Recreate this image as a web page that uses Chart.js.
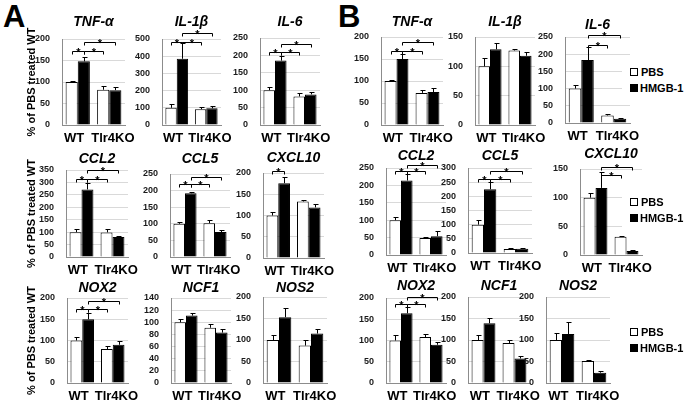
<!DOCTYPE html>
<html>
<head>
<meta charset="utf-8">
<script src="https://cdn.jsdelivr.net/npm/chart.js@4.4.1/dist/chart.umd.min.js"></script>
<style>
  body { margin: 0; background: #fff; }
  #wrap { position: relative; width: 686px; height: 404px; overflow: hidden; font-family: 'Liberation Sans', Arial, sans-serif; }
  #wrap canvas { position: absolute; }
  .panel { position: absolute; font-weight: bold; font-size: 31px; line-height: 1; }
  .leg { position: absolute; background: #fff; width: 64px; height: 40px; font-weight: bold; font-size: 11px; }
  .leg span { position: absolute; line-height: 1; }
  .leg i { position: absolute; width: 8px; height: 8px; box-sizing: border-box; border: 1px solid #000; }
</style>
</head>
<body>
<div id="wrap">
  <div class="panel" style="left:3px;top:1px">A</div>
  <div class="panel" style="left:338px;top:1px">B</div>
</div>
<script>
const genes = ['TNF-α', 'IL-1β', 'IL-6', 'CCL2', 'CCL5', 'CXCL10', 'NOX2', 'NCF1', 'NOS2'];
const groups = ['WT', 'Tlr4KO'];
const series = ['PBS', 'HMGB-1'];

// panel A, per gene: [WT, Tlr4KO]
const pbsA = [[100, 82], [100, 92], [100, 82], [100, 99], [100, 102], [100, 133], [100, 80], [100, 91], [100, 87]];
const pbsErrA = [[3, 8], [22, 14], [10, 9], [12, 12], [5, 8], [9, 3], [8, 7], [5, 7], [12, 12]];
const hmgbA = [[148, 81], [385, 97], [185, 88], [272, 80], [192, 75], [176, 119], [150, 90], [111, 83], [153, 115]];
const hmgbErrA = [[11, 7], [92, 12], [12, 8], [24, 5], [5, 7], [14, 8], [14, 8], [4, 6], [22, 10]];
const yMaxA = [200, 500, 250, 350, 250, 200, 200, 140, 200];
const yStepA = [50, 100, 50, 50, 50, 50, 50, 20, 50];
// brackets: [bar, bar, height] with bars 0 WT-PBS, 1 WT-HMGB, 2 KO-PBS, 3 KO-HMGB
const sigA = [
  [[0, 1, 171], [1, 2, 171], [1, 3, 192]],
  [[0, 1, 483], [1, 2, 483], [1, 3, 535]],
  [[0, 1, 209], [1, 2, 209], [1, 3, 233]],
  [[0, 1, 314], [1, 2, 314], [1, 3, 350]],
  [[0, 1, 219], [1, 2, 219], [1, 3, 242]],
  [[0, 1, 204]],
  [[0, 1, 175], [1, 2, 175], [1, 3, 194]],
  [],
  []
];

// panel B
const pbsB = [[100, 73], [100, 127], [100, 22], [100, 49], [100, 14], [100, 32], [100, 108], [100, 93], [100, 51]];
const pbsErrB = [[2, 6], [15, 3], [10, 5], [9, 2], [18, 2], [8, 2], [13, 7], [11, 7], [16, 3]];
const hmgbB = [[150, 75], [129, 118], [183, 12], [214, 54], [225, 15], [117, 7], [164, 90], [139, 57], [114, 24]];
const hmgbErrB = [[12, 9], [11, 7], [37, 3], [19, 16], [27, 3], [28, 1], [16, 6], [12, 5], [28, 3]];
const yMaxB = [200, 150, 250, 250, 300, 150, 200, 200, 200];
const yStepB = [50, 50, 50, 50, 50, 50, 50, 50, 50];
const sigB = [
  [[0, 1, 168], [1, 2, 168], [1, 3, 189]],
  [],
  [[1, 2, 226], [1, 3, 255]],
  [[0, 1, 240], [1, 2, 240], [1, 3, 260]],
  [[0, 1, 261], [1, 2, 261], [1, 3, 288]],
  [[1, 2, 139], [1, 3, 154]],
  [[0, 1, 186], [1, 2, 186], [1, 3, 202]],
  [],
  []
];

const yTitle = '% of PBS treated WT';

// layout: plot area [left, right, top, bottom] and title centre y
const boxA = [[62, 125, 39, 125], [162, 221, 39, 125], [260, 320, 38, 125],
              [66, 128, 170, 257], [170, 230, 174, 257], [263, 324, 173, 258],
              [67, 128, 298, 383], [171, 231, 298, 383], [263, 327, 297, 383]];
const titleYA = [22, 22, 22, 159, 159, 158, 288, 288, 288];
const boxB = [[381, 443, 37, 125], [475, 535, 37, 125], [565, 630, 37, 123],
              [386, 446, 168, 255], [468, 532, 168, 253], [580, 642, 169, 255],
              [386, 446, 298, 383], [468, 530, 297, 383], [546, 610, 297, 383]];
const titleYB = [22, 22, 25, 156, 156, 154, 286, 286, 286];
const legendY = [72, 202, 332];

const sans = "'Liberation Sans', Arial, sans-serif";
const wrap = document.getElementById('wrap');

const errorBars = {
  id: 'errorBars',
  afterDatasetsDraw(chart) {
    const ctx = chart.ctx, y = chart.scales.y;
    ctx.save();
    ctx.strokeStyle = '#000';
    ctx.lineWidth = 1;
    chart.data.datasets.forEach((ds, di) => {
      chart.getDatasetMeta(di).data.forEach((bar, i) => {
        const x = Math.round(bar.x) + 0.5;
        const top = Math.round(y.getPixelForValue(ds.data[i] + ds.err[i])) + 0.5;
        ctx.beginPath();
        ctx.moveTo(x, bar.y);
        ctx.lineTo(x, top);
        ctx.moveTo(x - 2, top);
        ctx.lineTo(x + 3, top);
        ctx.stroke();
      });
    });
    ctx.restore();
  }
};

const sigBrackets = {
  id: 'sigBrackets',
  afterDatasetsDraw(chart, args, opts) {
    const ctx = chart.ctx, y = chart.scales.y;
    const barX = k => Math.round(chart.getDatasetMeta(k % 2).data[Math.floor(k / 2)].x) + 0.5;
    ctx.save();
    ctx.strokeStyle = '#000';
    ctx.fillStyle = '#000';
    ctx.lineWidth = 1;
    ctx.font = 'bold 11px ' + sans;
    ctx.textAlign = 'center';
    ctx.textBaseline = 'alphabetic';
    for (const [a, b, v] of opts.pairs || []) {
      const x1 = barX(a), x2 = barX(b);
      const yy = Math.round(y.getPixelForValue(v)) + 0.5;
      ctx.beginPath();
      ctx.moveTo(x1, yy + 3);
      ctx.lineTo(x1, yy);
      ctx.lineTo(x2, yy);
      ctx.lineTo(x2, yy + 3);
      ctx.stroke();
      ctx.fillText('*', (x1 + x2) / 2, yy + 4);
    }
    ctx.restore();
  }
};

function drawChart(gene, pbs, pbsErr, hmgb, hmgbErr, yMax, yStep, sig, box, titleY, withTitle) {
  const [l, r, t, b] = box;
  const yW = withTitle ? l - 21 : 45;
  const rp = 14, xH = 20, topH = 30;
  const canvas = document.createElement('canvas');
  canvas.width = (r - l) + yW + rp;
  canvas.height = (b - t) + topH + xH;
  canvas.style.left = (l - yW) + 'px';
  canvas.style.top = (t - topH) + 'px';
  wrap.appendChild(canvas);
  const padTop = titleY - 8.4 - (t - topH);

  new Chart(canvas, {
    type: 'bar',
    data: {
      labels: groups,
      datasets: [
        { label: series[0], data: pbs, err: pbsErr, backgroundColor: '#fff', borderColor: '#000', borderWidth: 1 },
        { label: series[1], data: hmgb, err: hmgbErr, backgroundColor: '#000', borderColor: '#000', borderWidth: 1 }
      ]
    },
    plugins: [errorBars, sigBrackets],
    options: {
      responsive: false,
      animation: false,
      events: [],
      categoryPercentage: 0.77,
      barPercentage: 1,
      layout: { padding: { left: 0, right: rp, top: 0, bottom: 0 } },
      plugins: {
        legend: { display: false },
        tooltip: { enabled: false },
        title: {
          display: true,
          text: gene,
          fullSize: false,
          color: '#000',
          font: { family: sans, size: 14, weight: 'bold', style: 'italic', lineHeight: 1.2 },
          padding: { top: padTop, bottom: topH - 16.8 - padTop }
        },
        sigBrackets: { pairs: sig }
      },
      scales: {
        x: {
          grid: { display: false },
          border: { color: '#8c8c8c' },
          ticks: {
            color: '#000', padding: -2, autoSkip: false, maxRotation: 0, minRotation: 0,
            font: { family: sans, size: 13, weight: 'bold' },
            // the two group names sit a little apart from the category centres
            callback: (v, i) => i === 0 ? groups[0] + '  ' : '  ' + groups[1]
          },
          afterFit(s) { s.height = xH; s.paddingLeft = 0; s.paddingRight = 0; }
        },
        y: {
          min: 0,
          max: yMax,
          ticks: { stepSize: yStep, autoSkip: false, color: '#1a1a1a', padding: 12, font: { family: sans, size: 9, weight: 'bold' } },
          grid: { color: '#d9d9d9', drawTicks: false },
          border: { color: '#8c8c8c' },
          title: {
            display: withTitle,
            text: yTitle,
            color: '#000',
            font: { family: sans, size: 11, weight: 'bold' },
            padding: { top: 4, bottom: 0 }
          },
          afterFit(s) { s.width = yW; s.paddingTop = 0; s.paddingBottom = 0; }
        }
      }
    }
  });
}

genes.forEach((g, i) => {
  drawChart(g, pbsA[i], pbsErrA[i], hmgbA[i], hmgbErrA[i], yMaxA[i], yStepA[i], sigA[i], boxA[i], titleYA[i], i % 3 === 0);
  drawChart(g, pbsB[i], pbsErrB[i], hmgbB[i], hmgbErrB[i], yMaxB[i], yStepB[i], sigB[i], boxB[i], titleYB[i], false);
});

// legends for panel B rows
legendY.forEach(y => {
  const leg = document.createElement('div');
  leg.className = 'leg';
  leg.style.left = '622px';
  leg.style.top = (y - 12) + 'px';
  leg.innerHTML =
    '<i style="left:8px;top:8px;background:#fff"></i><span style="left:19px;top:7px">' + series[0] + '</span>' +
    '<i style="left:8px;top:24px;background:#000"></i><span style="left:18px;top:23px">' + series[1] + '</span>';
  wrap.appendChild(leg);
});
</script>
</body>
</html>
